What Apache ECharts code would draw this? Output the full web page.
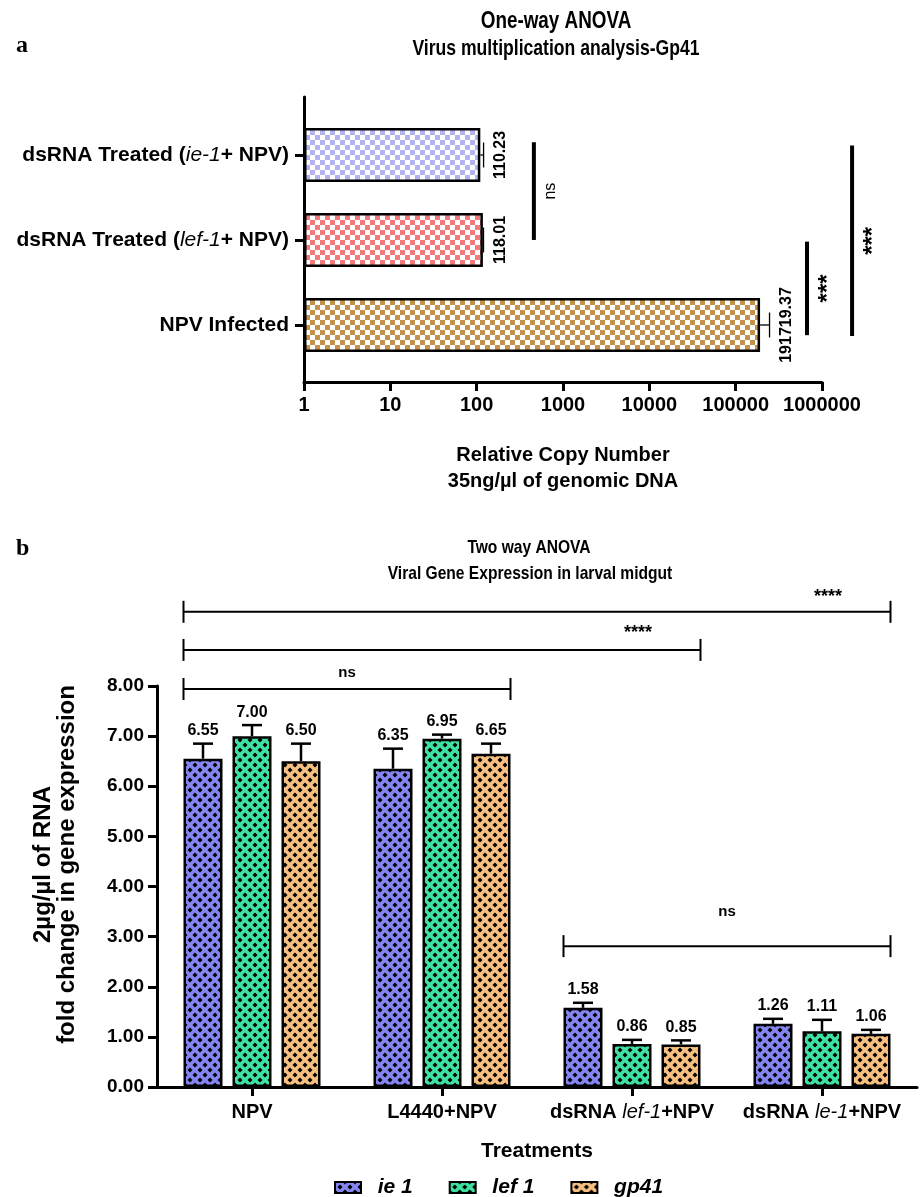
<!DOCTYPE html>
<html lang="en">
<head>
<meta charset="UTF-8">
<title>Virus multiplication / viral gene expression</title>
<script src="https://cdn.jsdelivr.net/npm/echarts@6/dist/echarts.min.js"></script>
<style>
    body { margin: 0; background: #fff; }
    #main { width: 920px; height: 1197px; }
</style>
</head>
<body>
<div id="main"></div>
<script>
    // ---------- panel a: one-way ANOVA ----------
    var aCategories = ['dsRNA Treated (ie-1+ NPV)', 'dsRNA Treated (lef-1+ NPV)', 'NPV Infected'];
    var aValues = [110.23, 118.01, 191719.37];
    var aErrors = [10, 2, 55000];
    var aColors = ['#b3b3f2', '#f27a7a', '#c4914a'];
    // significance lines: x value, from / to (category units), label
    var aBrackets = [[460, -0.15, 1.0, 'ns'], [670000, 1.02, 2.12, '***'], [2230000, -0.11, 2.13, '***']];

    // ---------- panel b: two-way ANOVA ----------
    var bCategories = ['NPV', 'L4440+NPV', 'dsRNA lef-1+NPV', 'dsRNA le-1+NPV'];
    var bGenes = ['ie 1', 'lef 1', 'gp41'];
    var bIe1 = [6.55, 6.35, 1.58, 1.26];
    var bLef1 = [7.00, 6.95, 0.86, 1.11];
    var bGp41 = [6.50, 6.65, 0.85, 1.06];
    var bIe1Err = [0.30, 0.40, 0.10, 0.10];
    var bLef1Err = [0.22, 0.08, 0.08, 0.23];
    var bGp41Err = [0.35, 0.20, 0.08, 0.08];
    var bColors = ['#8585f2', '#3ee3a3', '#f7bf80'];
    // comparisons: from group, to group, line height, label height, label
    var bBrackets = [[0, 3, 9.48, 9.78, '****'], [0, 2, 8.72, 9.06, '****'], [0, 1, 7.94, 8.26, 'ns'], [2, 3, 2.81, 3.49, 'ns']];

    var FONT = "'Liberation Sans', Arial, sans-serif";
    var BAR_W = 39, BAR_GAP = 10;   // panel b bars

    // checkered fill (panel a)
    function checker(color) {
        var c = document.createElement('canvas');
        c.width = c.height = 10;
        var g = c.getContext('2d');
        g.fillStyle = '#fff';
        g.fillRect(0, 0, 10, 10);
        g.fillStyle = color;
        g.fillRect(0, 0, 5, 5);
        g.fillRect(5, 5, 5, 5);
        return {image: c, repeat: 'repeat'};
    }
    // colour with black diamonds (panel b)
    function diamonds(color) {
        var c = document.createElement('canvas');
        c.width = c.height = 10;
        var g = c.getContext('2d');
        g.fillStyle = color;
        g.fillRect(0, 0, 10, 10);
        g.fillStyle = '#000';
        [[0, 0], [10, 0], [0, 10], [10, 10], [5, 5]].forEach(function (p) {
            g.beginPath();
            g.moveTo(p[0], p[1] - 2.5);
            g.lineTo(p[0] + 2.5, p[1]);
            g.lineTo(p[0], p[1] + 2.5);
            g.lineTo(p[0] - 2.5, p[1]);
            g.closePath();
            g.fill();
        });
        return {image: c, repeat: 'repeat'};
    }

    // italic gene names inside category labels
    function richLabel(s) {
        return '{bd|' + s.replace(/(lef-1|ie-1|le-1)/, '}{it|$1}{bd|') + '}';
    }
    function richStyles(size) {
        return {
            bd: {fontFamily: FONT, fontWeight: 'bold', fontSize: size, color: '#000'},
            it: {fontFamily: FONT, fontStyle: 'italic', fontSize: size, color: '#000'}
        };
    }

    var axisLine3 = {show: true, onZero: false, lineStyle: {color: '#000', width: 3}};
    var tick3 = {show: true, length: 9, lineStyle: {color: '#000', width: 3}};

    var bSeriesVals = [bIe1, bLef1, bGp41];
    var bSeriesErr = [bIe1Err, bLef1Err, bGp41Err];
    var bErrData = [];
    bSeriesVals.forEach(function (arr, g) {
        arr.forEach(function (v, i) { bErrData.push([i, v, bSeriesErr[g][i], g]); });
    });

    var chart = echarts.init(document.getElementById('main'));
    var option = {
        animation: false,
        backgroundColor: '#fff',
        textStyle: {fontFamily: FONT},
        graphic: [
            {type: 'text', x: 16, y: 34, style: {text: 'a', font: "bold 24px 'Liberation Serif', serif", fill: '#000'}},
            {type: 'text', x: 16, y: 537, style: {text: 'b', font: "bold 24px 'Liberation Serif', serif", fill: '#000'}},
            {type: 'text', x: 556, y: 22, scaleX: 0.82, style: {text: 'One-way ANOVA', font: 'bold 23px ' + FONT, fill: '#000', align: 'center', verticalAlign: 'middle'}},
            {type: 'text', x: 556, y: 49, scaleX: 0.8, style: {text: 'Virus multiplication analysis-Gp41', font: 'bold 22px ' + FONT, fill: '#000', align: 'center', verticalAlign: 'middle'}},
            {type: 'text', x: 529, y: 548, scaleX: 0.82, style: {text: 'Two way ANOVA', font: 'bold 19px ' + FONT, fill: '#000', align: 'center', verticalAlign: 'middle'}},
            {type: 'text', x: 530, y: 574, scaleX: 0.82, style: {text: 'Viral Gene Expression in larval midgut', font: 'bold 19px ' + FONT, fill: '#000', align: 'center', verticalAlign: 'middle'}}
        ],
        legend: {
            data: bGenes,
            left: 329, top: 1172,
            icon: 'rect',
            itemWidth: 26, itemHeight: 11,
            itemGap: 36,
            formatter: function (n) { return '  ' + n; },
            textStyle: {fontFamily: FONT, fontSize: 21, fontWeight: 'bold', fontStyle: 'italic', color: '#000'}
        },
        grid: [
            {left: 304, top: 97, width: 518, height: 285},
            {left: 304, top: 112.5, width: 518, height: 255},
            {left: 157, top: 686, width: 760, height: 401}
        ],
        xAxis: [
            {
                gridIndex: 0, type: 'log', logBase: 10, min: 1, max: 1000000, splitNumber: 6,
                axisLine: axisLine3, axisTick: tick3, splitLine: {show: false}, minorTick: {show: false},
                axisLabel: {
                    margin: 13, fontSize: 20, fontWeight: 'bold', color: '#000',
                    formatter: function (v) { return String(Math.round(v)); }
                },
                name: 'Relative Copy Number\n35ng/µl of genomic DNA',
                nameLocation: 'middle', nameGap: 60,
                nameTextStyle: {fontSize: 20, fontWeight: 'bold', color: '#000', lineHeight: 26}
            },
            {gridIndex: 1, type: 'log', logBase: 10, min: 1, max: 1000000, show: false},
            {
                gridIndex: 2, type: 'category', data: bCategories,
                axisLine: axisLine3, axisTick: {show: true, alignWithLabel: true, length: 9, lineStyle: {color: '#000', width: 3}},
                axisLabel: {margin: 15, interval: 0, formatter: richLabel, rich: richStyles(20)},
                name: 'Treatments', nameLocation: 'middle', nameGap: 54,
                nameTextStyle: {fontSize: 21, fontWeight: 'bold', color: '#000'}
            }
        ],
        yAxis: [
            {
                gridIndex: 0, type: 'value', min: -0.682, max: 2.671, inverse: true,
                axisLine: axisLine3, axisTick: {show: false}, axisLabel: {show: false}, splitLine: {show: false}
            },
            {
                gridIndex: 1, type: 'category', data: aCategories, inverse: true,
                axisLine: {show: false},
                axisTick: {show: true, alignWithLabel: true, length: 9, lineStyle: {color: '#000', width: 3}},
                axisLabel: {margin: 15, interval: 0, formatter: richLabel, rich: richStyles(21)}
            },
            {
                gridIndex: 2, type: 'value', min: 0, max: 8, interval: 1,
                axisLine: axisLine3, axisTick: tick3, splitLine: {show: false},
                axisLabel: {
                    margin: 13, fontSize: 19, fontWeight: 'bold', color: '#000',
                    formatter: function (v) { return v.toFixed(2); }
                },
                name: '2µg/µl of RNA\nfold change in gene expression',
                nameLocation: 'middle', nameRotate: 90, nameGap: 78,
                nameTextStyle: {fontSize: 24, fontWeight: 'bold', color: '#000', lineHeight: 24, padding: [0, 0, 0, 44]}
            }
        ],
        series: [
            {
                type: 'bar', xAxisIndex: 1, yAxisIndex: 1, barWidth: 54,
                data: aValues.map(function (v, i) {
                    return {value: v, itemStyle: {color: checker(aColors[i])}};
                }),
                itemStyle: {borderColor: '#000', borderWidth: 2.5}
            },
            {
                // error bars + value labels, panel a
                type: 'custom', xAxisIndex: 1, yAxisIndex: 1, z: 5,
                data: aValues.map(function (v, i) { return [i, v, aErrors[i]]; }),
                encode: {x: 1, y: 0},
                renderItem: function (params, api) {
                    var i = api.value(0), v = api.value(1), e = api.value(2);
                    var p0 = api.coord([v, i]), p1 = api.coord([v + e, i]);
                    var ls = {stroke: '#000', lineWidth: 1.3};
                    return {
                        type: 'group', children: [
                            {type: 'line', shape: {x1: p0[0], y1: p0[1], x2: p1[0], y2: p1[1]}, style: ls},
                            {type: 'line', shape: {x1: p1[0], y1: p1[1] - 12.5, x2: p1[0], y2: p1[1] + 12.5}, style: ls},
                            {
                                type: 'text', x: p1[0] + 17, y: p1[1], rotation: Math.PI / 2,
                                style: {text: v.toFixed(2), font: 'bold 16px ' + FONT, fill: '#000', align: 'center', verticalAlign: 'middle'}
                            }
                        ]
                    };
                }
            },
            {
                // significance lines, panel a
                type: 'custom', xAxisIndex: 0, yAxisIndex: 0, z: 5,
                data: aBrackets.map(function (b) { return [b[0], b[1], b[2]]; }),
                encode: {x: 0, y: [1, 2]},
                renderItem: function (params, api) {
                    var b = aBrackets[params.dataIndex];
                    var p0 = api.coord([api.value(0), api.value(1)]);
                    var p1 = api.coord([api.value(0), api.value(2)]);
                    var stars = b[3] !== 'ns';
                    return {
                        type: 'group', children: [
                            {type: 'line', shape: {x1: p0[0], y1: p0[1], x2: p1[0], y2: p1[1]}, style: {stroke: '#000', lineWidth: 4}},
                            {
                                type: 'text', x: p0[0] + (stars ? 21 : 17), y: (p0[1] + p1[1]) / 2, rotation: Math.PI / 2,
                                style: {
                                    text: b[3], font: (stars ? 'bold 24px ' : '16px ') + FONT, fill: '#000',
                                    align: 'center', verticalAlign: 'middle'
                                }
                            }
                        ]
                    };
                }
            }
        ].concat(bGenes.map(function (g, k) {
            return {
                name: g, type: 'bar', xAxisIndex: 2, yAxisIndex: 2,
                barWidth: BAR_W, barGap: (BAR_GAP / BAR_W * 100) + '%',
                data: bSeriesVals[k],
                itemStyle: {color: diamonds(bColors[k]), borderColor: '#000', borderWidth: 2.5}
            };
        })).concat([
            {
                // error bars + value labels, panel b
                type: 'custom', xAxisIndex: 2, yAxisIndex: 2, z: 5,
                data: bErrData,
                encode: {x: 0, y: 1},
                renderItem: function (params, api) {
                    var c = api.value(0), v = api.value(1), e = api.value(2), g = api.value(3);
                    var dx = (g - 1) * (BAR_W + BAR_GAP);
                    var p0 = api.coord([c, v]), p1 = api.coord([c, v + e]);
                    var x = p0[0] + dx;
                    var ls = {stroke: '#000', lineWidth: 2.5};
                    return {
                        type: 'group', children: [
                            {type: 'line', shape: {x1: x, y1: p0[1], x2: x, y2: p1[1]}, style: ls},
                            {type: 'line', shape: {x1: x - 10, y1: p1[1], x2: x + 10, y2: p1[1]}, style: ls},
                            {
                                type: 'text', x: x, y: p1[1] - 13,
                                style: {text: v.toFixed(2), font: 'bold 16px ' + FONT, fill: '#000', align: 'center', verticalAlign: 'middle'}
                            }
                        ]
                    };
                }
            },
            {
                // comparison brackets, panel b
                type: 'custom', xAxisIndex: 2, yAxisIndex: 2, z: 5,
                data: bBrackets.map(function (b) { return [b[0], b[1], b[2], b[3]]; }),
                encode: {x: [0, 1], y: [2, 3]},
                renderItem: function (params, api) {
                    var b = bBrackets[params.dataIndex];
                    var half = 1.5 * BAR_W + BAR_GAP;
                    var pf = api.coord([api.value(0), api.value(2)]);
                    var pt = api.coord([api.value(1), api.value(2)]);
                    var ly = api.coord([api.value(1), api.value(3)])[1];
                    var x0 = pf[0] - half, x1 = pt[0] + half, y = pf[1];
                    var stars = b[4] !== 'ns';
                    var lx = stars ? pt[0] + 6 : (x0 + x1) / 2;
                    var ls = {stroke: '#000', lineWidth: 2};
                    return {
                        type: 'group', children: [
                            {type: 'line', shape: {x1: x0, y1: y, x2: x1, y2: y}, style: ls},
                            {type: 'line', shape: {x1: x0, y1: y - 11, x2: x0, y2: y + 11}, style: ls},
                            {type: 'line', shape: {x1: x1, y1: y - 11, x2: x1, y2: y + 11}, style: ls},
                            {
                                type: 'text', x: lx, y: ly,
                                style: {
                                    text: b[4], font: 'bold ' + (stars ? 18 : 15) + 'px ' + FONT, fill: '#000',
                                    align: 'center', verticalAlign: 'middle'
                                }
                            }
                        ]
                    };
                }
            }
        ])
    };
    chart.setOption(option);
</script>
</body>
</html>
